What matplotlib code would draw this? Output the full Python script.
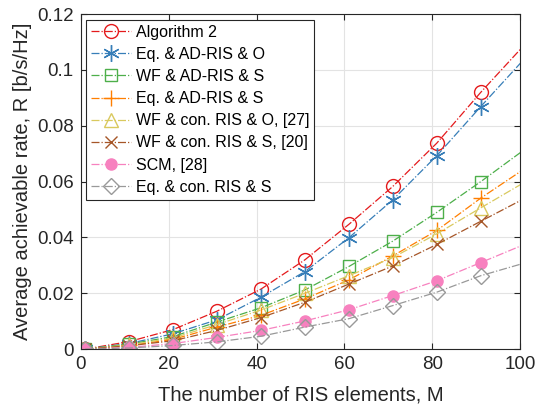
import numpy as np
import matplotlib
matplotlib.use("Agg")
import matplotlib.pyplot as plt

plt.rcParams["font.family"] = ["Liberation Sans", "DejaVu Sans"]

# number of RIS elements where the rates were evaluated
M = [1, 11, 21, 31, 41, 51, 61, 71, 81, 91, 100]

# average achievable rate [b/s/Hz] per scheme
rate_alg2 = [0.0, 0.0027, 0.0070, 0.0136, 0.0215, 0.0320, 0.0447, 0.0583, 0.0738, 0.0920, 0.1074]
rate_eq_ad_o = [0.0, 0.0020, 0.0055, 0.0105, 0.0186, 0.0278, 0.0399, 0.0535, 0.0693, 0.0869, 0.1024]
rate_wf_ad_s = [0.0, 0.0018, 0.0045, 0.0097, 0.0148, 0.0212, 0.0296, 0.0387, 0.0490, 0.0600, 0.0704]
rate_eq_ad_s = [0.0, 0.0013, 0.0035, 0.0079, 0.0121, 0.0180, 0.0248, 0.0334, 0.0425, 0.0541, 0.0636]
rate_wf_con_o = [0.0, 0.0015, 0.0040, 0.0088, 0.0140, 0.0200, 0.0263, 0.0328, 0.0413, 0.0506, 0.0589]
rate_wf_con_s = [0.0, 0.0012, 0.0030, 0.0067, 0.0113, 0.0168, 0.0233, 0.0298, 0.0375, 0.0458, 0.0532]
rate_scm = [0.0, 0.0006, 0.0020, 0.0042, 0.0067, 0.0101, 0.0141, 0.0192, 0.0245, 0.0310, 0.0369]
rate_eq_con_s = [0.0, 0.0004, 0.0013, 0.0026, 0.0046, 0.0079, 0.0109, 0.0156, 0.0204, 0.0263, 0.0304]

labels = [
    "Algorithm 2",
    "Eq. & AD-RIS & O",
    "WF & AD-RIS & S",
    "Eq. & AD-RIS & S",
    "WF & con. RIS & O, [27]",
    "WF & con. RIS & S, [20]",
    "SCM, [28]",
    "Eq. & con. RIS & S",
]
series = [rate_alg2, rate_eq_ad_o, rate_wf_ad_s, rate_eq_ad_s,
          rate_wf_con_o, rate_wf_con_s, rate_scm, rate_eq_con_s]

colors = ["#e41a1c", "#377eb8", "#4daf4a", "#ff7f00",
          "#d9c95e", "#a65628", "#f781bf", "#999999"]
# (6, 2, 0) is a six-spoke asterisk
markers = ["o", (6, 2, 0), "s", "+", "^", "x", "o", "D"]
sizes = [10, 12, 9, 12, 10, 8, 8, 8]

fig = plt.figure(figsize=(5.42, 4.05), dpi=100)
ax = fig.add_axes([0.149, 0.138, 0.811, 0.827])

for y, lab, c, mk, ms in zip(series, labels, colors, markers, sizes):
    filled = lab.startswith("SCM")
    ax.plot(M, y, linestyle="-.", linewidth=0.9, color=c, marker=mk,
            markersize=ms, markeredgewidth=1.0,
            markerfacecolor=c if filled else "none", markeredgecolor=c,
            markevery=list(range(len(M) - 1)), label=lab)

ax.set_xlim(0, 100)
ax.set_ylim(0, 0.12)
ax.set_xticks([0, 20, 40, 60, 80, 100])
ax.set_yticks([0, 0.02, 0.04, 0.06, 0.08, 0.1, 0.12])
ax.set_yticklabels(["0", "0.02", "0.04", "0.06", "0.08", "0.1", "0.12"])
ax.grid(True, color="#e3e3e3", linewidth=0.8)
ax.set_axisbelow(True)
ax.tick_params(direction="in", top=True, right=True, length=4,
               labelsize=13.5, colors="#262626", pad=5)
for sp in ax.spines.values():
    sp.set_color("#262626")
    sp.set_linewidth(0.8)

ax.set_xlabel("The number of RIS elements, M", fontsize=14.5, color="#262626",
              labelpad=9)
ax.set_ylabel("Average achievable rate, R [b/s/Hz]", fontsize=14.5,
              color="#262626", labelpad=4)

leg = ax.legend(loc="upper left", fontsize=11.5, handlelength=2.5,
                handletextpad=0.3, labelspacing=0.45, borderpad=0.3,
                borderaxespad=0.35, fancybox=False, framealpha=1)
leg.get_frame().set_edgecolor("#262626")
leg.get_frame().set_linewidth(0.8)

fig.savefig("out.png", dpi=100)
